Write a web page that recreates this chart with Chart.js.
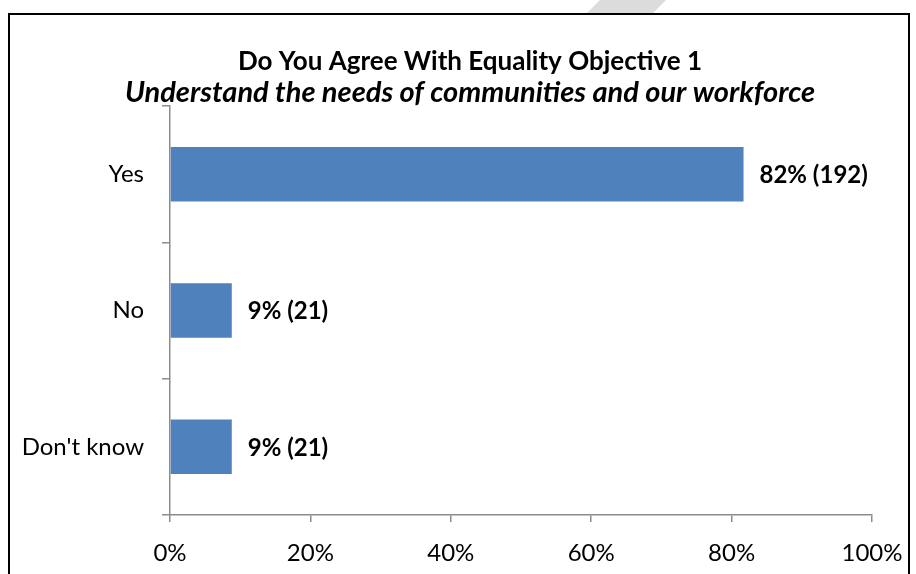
<!DOCTYPE html>
<html lang="en">
<head>
  <meta charset="UTF-8">
  <title>Do You Agree With Equality Objective 1</title>
  <style>
    body {
      margin: 0;
      background: #fff;
      overflow: hidden;
    }
    .wrap {
      position: relative;
      width: 916px;
      height: 574px;
      overflow: hidden;
    }
    .frame {
      position: absolute;
      left: 8px;
      top: 13px;
      width: 898px;
      height: 700px;
      border: 2px solid #000;
      pointer-events: none;
    }
    .mark {
      position: absolute;
      left: 587px;
      top: 0;
      width: 80px;
      height: 13px;
      background: #dcdcdc;
      clip-path: polygon(13px 0, 79px 0, 66px 13px, 0 13px);
    }
    #chart {
      position: absolute;
      left: 0;
      top: 0;
    }
  </style>
</head>
<body>
  <div class="wrap">
    <div class="mark"></div>
    <canvas id="chart" width="920" height="574"></canvas>
    <div class="frame"></div>
  </div>

  <script src="https://cdn.jsdelivr.net/npm/chart.js"></script>
  <script>
    // answers and share of respondents (%)
    const answers = ['Yes', 'No', "Don't know"];
    const percents = [81.7, 8.8, 8.8];
    const counts = [192, 21, 21];
    const xTicks = [0, 20, 40, 60, 80, 100];

    const axisColor = '#8c8c8c';
    const font = 'Lato, Calibri, sans-serif';

    // draws "82% (192)" after each bar
    const barLabels = {
      id: 'barLabels',
      afterDatasetsDraw(chart) {
        const ctx = chart.ctx;
        const meta = chart.getDatasetMeta(0);
        ctx.save();
        ctx.font = 'bold 24px ' + font;
        ctx.fillStyle = '#000';
        ctx.textBaseline = 'middle';
        ctx.textAlign = 'left';
        meta.data.forEach((bar, i) => {
          const text = Math.round(percents[i]) + '% (' + counts[i] + ')';
          ctx.fillText(text, bar.x + 16, bar.y + 1);
        });
        ctx.restore();
      }
    };

    new Chart(document.getElementById('chart'), {
      type: 'bar',
      data: {
        labels: answers,
        datasets: [{
          data: percents,
          backgroundColor: '#4f81bd',
          borderColor: '#4f81bd',
          borderWidth: 0,
          barPercentage: 0.8,
          categoryPercentage: 0.5
        }]
      },
      options: {
        indexAxis: 'y',
        responsive: false,
        animation: false,
        layout: {
          padding: { left: 20, right: 0, top: 33, bottom: 0 }
        },
        plugins: {
          legend: { display: false },
          tooltip: { enabled: false },
          title: {
            display: true,
            text: 'Do You Agree With Equality Objective 1',
            color: '#000',
            font: { family: font, size: 26, weight: 'bold', lineHeight: 1.0 },
            padding: { top: 16, bottom: 0 }
          },
          subtitle: {
            display: true,
            text: 'Understand the needs of communities and our workforce',
            color: '#000',
            font: { family: font, size: 29, weight: 'bold', style: 'italic', lineHeight: 0.9 },
            padding: { top: 5, bottom: 0 }
          }
        },
        scales: {
          x: {
            min: 0,
            max: 100,
            afterBuildTicks(scale) {
              scale.ticks = xTicks.map(v => ({ value: v }));
            },
            afterFit(scale) { scale.height = 59; },
            grid: {
              drawOnChartArea: false,
              drawTicks: true,
              tickLength: 7,
              color: axisColor,
              lineWidth: 1.5
            },
            border: { color: axisColor, width: 1.5 },
            ticks: {
              color: '#000',
              padding: 17,
              maxRotation: 0,
              font: { family: font, size: 24 },
              callback: v => v + '%'
            }
          },
          y: {
            afterFit(scale) { scale.width = 150; },
            grid: {
              offset: true,
              drawOnChartArea: false,
              drawTicks: true,
              tickLength: 8,
              color: axisColor,
              lineWidth: 1.5
            },
            border: { color: axisColor, width: 1.5 },
            ticks: {
              color: '#000',
              padding: 18,
              font: { family: font, size: 24 }
            }
          },
          // empty right-hand space, keeps the title centred like the original
          spacer: {
            axis: 'y',
            type: 'linear',
            position: 'right',
            afterFit(scale) { scale.width = 48; },
            grid: { display: false },
            border: { display: false },
            ticks: { display: false }
          }
        }
      },
      plugins: [barLabels]
    });
  </script>
</body>
</html>
